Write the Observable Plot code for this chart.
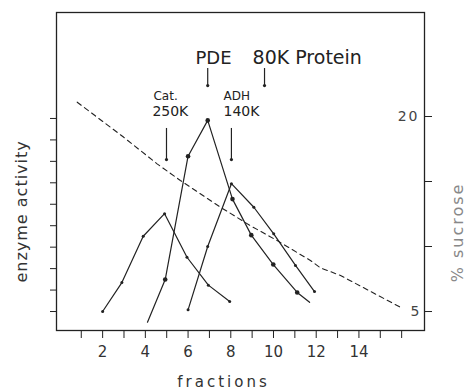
<!DOCTYPE html>
<html>
<head>
<meta charset="utf-8">
<script src="https://cdn.jsdelivr.net/npm/d3@7"></script>
<script src="https://cdn.jsdelivr.net/npm/@observablehq/plot@0.6"></script>
<style>
  html, body { margin: 0; padding: 0; background: #fff; }
  svg { display: block; }
</style>
</head>
<body>
<div id="chart"></div>
<script>
// ---- data (fraction number, enzyme activity in arbitrary tick units) ----
const catFraction = [2, 2.9, 3.9, 4.9, 5.95, 6.95, 7.95];
const catActivity = [0, 1.35, 3.51, 4.56, 2.53, 1.23, 0.47];

const pdeFraction = [4.1, 4.93, 6.0, 6.92, 8.08, 8.96, 9.99, 11.11, 11.69];
const pdeActivity = [-0.5, 1.49, 7.24, 8.91, 5.24, 3.56, 2.19, 0.89, 0.43];
const pdeMarked   = [false, true, true, true, true, true, true, true, false];

const adhFraction = [6.0, 6.92, 8.03, 9.08, 10.01, 11.03, 11.92];
const adhActivity = [0.08, 3.03, 5.96, 4.86, 3.62, 2.15, 0.93];

// % sucrose gradient (dashed)
const sucroseFraction = [0.81, 2.99, 4.55, 5.64, 7.52, 8.92, 10.17, 11.73, 12.2, 13.14, 16.03];
const sucrosePercent  = [21.1, 18.4, 16.36, 15.08, 13.02, 11.6, 10.46, 8.92, 8.36, 7.77, 5.25];

// ticks
const xTicks = d3.range(1, 17);
const xTickLabels = [2, 4, 6, 8, 10, 12, 14];
const activityTicks = d3.range(0, 10);
const sucroseTicks = [5, 10, 15, 20];
const sucroseTickLabels = [5, 20];

// marker annotations (fraction, height on % sucrose scale)
const bigLabels = [
  {text: "PDE", x: 7.19, y: 24.5, anchor: "middle"},
  {text: "80K Protein", x: 9.02, y: 24.5, anchor: "start"}
];
const nameLabels = [
  {text: "Cat.", x: 4.38, y: 21.54},
  {text: "ADH", x: 7.66, y: 21.54}
];
const massLabels = [
  {text: "250K", x: 4.33, y: 20.36},
  {text: "140K", x: 7.66, y: 20.36}
];
const markerArrows = [
  {x: 6.92, y1: 23.69, y2: 22.38},
  {x: 9.58, y1: 23.69, y2: 22.38},
  {x: 4.99, y1: 19.08, y2: 16.69},
  {x: 8.03, y1: 19.08, y2: 16.69}
];

// activity units -> position on the shared vertical scale (% sucrose)
const act = a => 5 + a * 1.65;

const cat = catFraction.map((f, i) => ({f, a: catActivity[i]}));
const pde = pdeFraction.map((f, i) => ({f, a: pdeActivity[i], m: pdeMarked[i]}));
const adh = adhFraction.map((f, i) => ({f, a: adhActivity[i]}));
const sucrose = sucroseFraction.map((f, i) => ({f, s: sucrosePercent[i]}));

const ink = "#222";
const font = "'DejaVu Sans', sans-serif";

const chart = Plot.plot({
  width: 466,
  height: 389,
  marginTop: 12,
  marginBottom: 59,
  marginLeft: 56,
  marginRight: 42,
  style: {fontFamily: font, background: "#fff", color: ink},
  x: {domain: [-0.16, 17.07]},
  y: {domain: [3.54, 28.0]},
  marks: [
    Plot.frame({stroke: ink, strokeWidth: 1.3}),
    Plot.axisX(xTicks, {
      anchor: "bottom", tickSize: 8, tickPadding: 8, fontSize: 15,
      tickFormat: d => xTickLabels.includes(d) ? String(d) : "",
      label: null, stroke: ink, fill: "#333"
    }),
    Plot.axisY(activityTicks.map(act), {
      anchor: "left", tickSize: 6, tickFormat: () => "", label: null, stroke: ink
    }),
    Plot.axisY(sucroseTicks, {
      anchor: "right", tickSize: 7, tickFormat: () => "", label: null, stroke: ink
    }),
    Plot.text(sucroseTickLabels, {
      y: d => d, frameAnchor: "right", textAnchor: "end", dx: -5,
      text: d => String(d), fontSize: 14, fill: "#444"
    }),
    // sucrose gradient
    Plot.line(sucrose, {x: "f", y: "s", stroke: ink, strokeWidth: 1.1, strokeDasharray: "5,4"}),
    // enzyme profiles
    Plot.line(cat, {x: "f", y: d => act(d.a), stroke: ink, strokeWidth: 1.2}),
    Plot.dot(cat, {x: "f", y: d => act(d.a), r: 1.5, fill: ink}),
    Plot.line(adh, {x: "f", y: d => act(d.a), stroke: ink, strokeWidth: 1.2}),
    Plot.dot(adh, {x: "f", y: d => act(d.a), r: 1.5, fill: ink}),
    Plot.line(pde, {x: "f", y: d => act(d.a), stroke: ink, strokeWidth: 1.2}),
    Plot.dot(pde.filter(d => d.m), {x: "f", y: d => act(d.a), r: 2.3, fill: ink}),
    // marker arrows and labels
    Plot.ruleX(markerArrows, {x: "x", y1: "y1", y2: "y2", stroke: ink, strokeWidth: 1.2}),
    Plot.dot(markerArrows, {x: "x", y: "y2", r: 1.6, fill: ink}),
    Plot.text(bigLabels.filter(d => d.anchor === "middle"), {
      x: "x", y: "y", text: "text", textAnchor: "middle", fontSize: 18, fill: "#222"
    }),
    Plot.text(bigLabels.filter(d => d.anchor === "start"), {
      x: "x", y: "y", text: "text", textAnchor: "start", fontSize: 19, fill: "#222"
    }),
    Plot.text(nameLabels, {
      x: "x", y: "y", text: "text", textAnchor: "start", fontSize: 12, fill: "#222"
    }),
    Plot.text(massLabels, {
      x: "x", y: "y", text: "text", textAnchor: "start", fontSize: 14, fill: "#222"
    }),
    // axis titles
    Plot.text(["fractions"], {
      x: [7.66], frameAnchor: "bottom", dy: 56, fontSize: 15, fill: "#333"
    }),
    Plot.text(["enzyme activity"], {
      y: [12.7], frameAnchor: "left", textAnchor: "middle", dx: -35, rotate: -90,
      fontSize: 16, fill: "#333"
    }),
    Plot.text(["% sucrose"], {
      y: [11.08], frameAnchor: "right", textAnchor: "middle", dx: 33, rotate: -90,
      fontSize: 16, fill: "#888"
    })
  ]
});

// letter spacing of the hand-lettered titles
const spacing = {"fractions": "3px", "enzyme activity": "1px", "% sucrose": "2px", "20": "2px"};
d3.select(chart).selectAll("text").each(function () {
  const t = this.textContent;
  if (spacing[t]) this.setAttribute("letter-spacing", spacing[t]);
});

document.getElementById("chart").appendChild(chart);
</script>
</body>
</html>
